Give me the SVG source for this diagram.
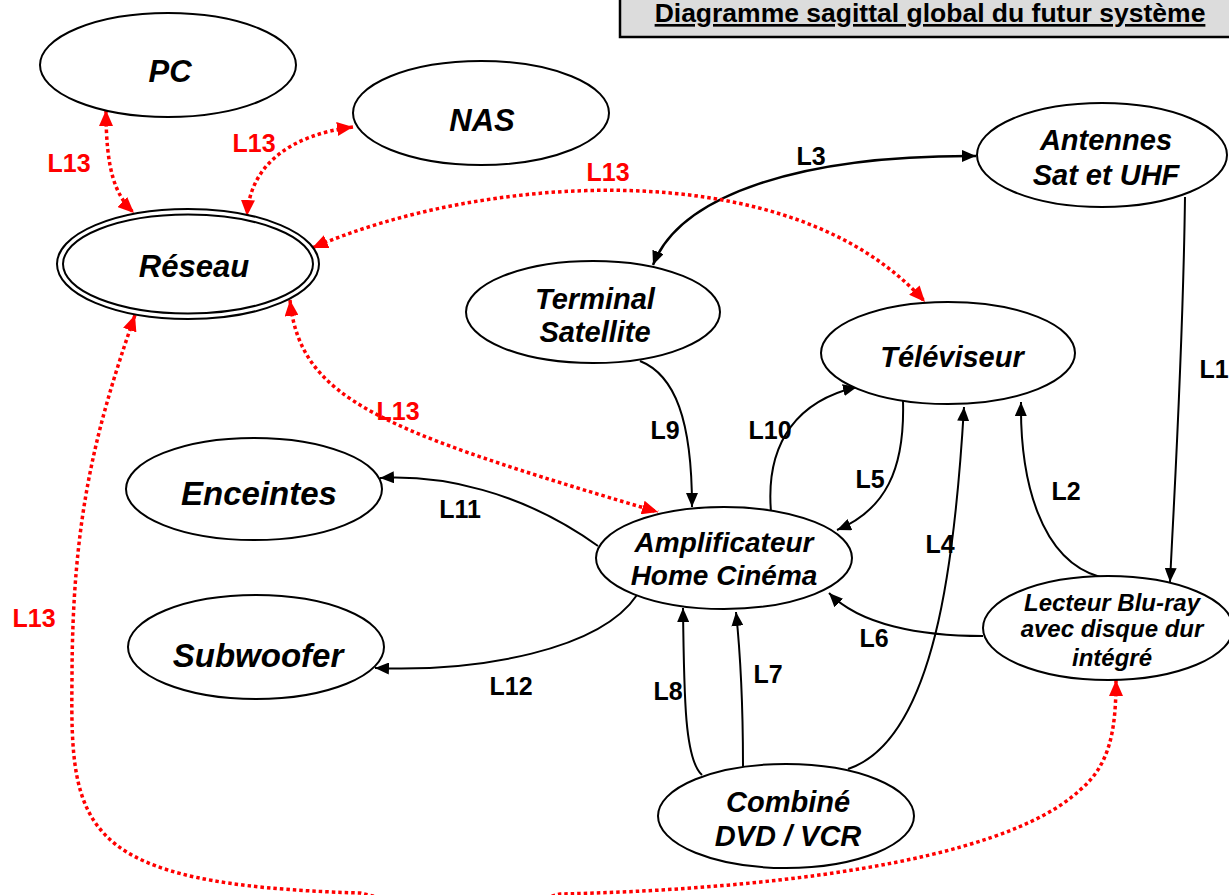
<svg xmlns="http://www.w3.org/2000/svg" width="1229" height="895" viewBox="0 0 1229 895">
<style>
.n{fill:#fff;stroke:#000;stroke-width:2}
.t{font-family:"Liberation Sans",Arial,sans-serif;font-weight:bold;font-style:italic;text-anchor:middle;fill:#000}
.lb{font-family:"Liberation Sans",Arial,sans-serif;font-weight:bold;font-size:25px;text-anchor:middle;fill:#000}
.lr{font-family:"Liberation Sans",Arial,sans-serif;font-weight:bold;font-size:25px;text-anchor:middle;fill:#f00}
.c{fill:none;stroke:#000;stroke-width:2}
.r{fill:none;stroke:#f00;stroke-width:3.5;stroke-dasharray:3.5 3}
</style>
<defs>
<marker id="ab" viewBox="0 0 14 12" refX="14" refY="6" markerWidth="14" markerHeight="12" markerUnits="userSpaceOnUse" orient="auto-start-reverse"><path d="M0,0 L14,6 L0,12 Z" fill="#000"/></marker>
<marker id="ar" viewBox="0 0 16 14" refX="16" refY="7" markerWidth="16" markerHeight="14" markerUnits="userSpaceOnUse" orient="auto-start-reverse"><path d="M0,0 L16,7 L0,14 Z" fill="#f00"/></marker>
</defs>
<rect width="1229" height="895" fill="#fff"/>
<g id="title">
<rect x="620" y="-5" width="620" height="42" fill="#dcdcdc" stroke="#000" stroke-width="2.5"/>
<text x="930" y="22" font-family="Liberation Sans,Arial,sans-serif" font-weight="bold" font-size="26.5" text-anchor="middle" text-decoration="underline">Diagramme sagittal global du futur système</text>
</g>
<g id="connectors">
<path class="c" d="M1185,197 C1183,350 1175,480 1170,582" marker-end="url(#ab)"/>
<path class="c" d="M1100,577 C1040,560 1020,480 1021,402" marker-end="url(#ab)"/>
<path class="c" style="stroke-width:2.5" d="M653,265 C680,195 800,155 976,156" marker-start="url(#ab)" marker-end="url(#ab)"/>
<path class="c" d="M848,769 C935,740 955,560 964,407" marker-end="url(#ab)"/>
<path class="c" d="M903,401 C905,470 885,510 837,530" marker-end="url(#ab)"/>
<path class="c" d="M983,636 C920,636 860,625 829,593" marker-end="url(#ab)"/>
<path class="c" d="M743,767 C743,700 740,650 736,612" marker-end="url(#ab)"/>
<path class="c" d="M702,775 C685,760 684,700 683,608" marker-end="url(#ab)"/>
<path class="c" d="M640,361 C675,375 692,420 692,507" marker-end="url(#ab)"/>
<path class="c" d="M771,512 C765,440 800,400 857,387" marker-end="url(#ab)"/>
<path class="c" d="M598,546 C520,490 440,475 380,478" marker-end="url(#ab)"/>
<path class="c" d="M637,595 C600,650 480,672 375,668" marker-end="url(#ab)"/>
<path class="r" d="M106,110 C106,170 115,195 134,213" marker-start="url(#ar)" marker-end="url(#ar)"/>
<path class="r" d="M353,127 C290,135 250,165 247,216" marker-start="url(#ar)" marker-end="url(#ar)"/>
<path class="r" d="M312,248 C480,175 790,150 925,302" marker-start="url(#ar)" marker-end="url(#ar)"/>
<path class="r" d="M290,300 C300,400 380,430 658,512" marker-start="url(#ar)" marker-end="url(#ar)"/>
<path class="r" d="M135,315 C95,430 72,520 72,680 C70,830 80,885 360,893 C410,906 510,908 560,894 C750,890 1000,865 1080,790 C1110,765 1116,730 1116,680" marker-start="url(#ar)" marker-end="url(#ar)"/>
<text class="lb" x="1214" y="378">L1</text>
<text class="lb" x="1066" y="500">L2</text>
<text class="lb" x="811" y="165">L3</text>
<text class="lb" x="940" y="553">L4</text>
<text class="lb" x="870" y="488">L5</text>
<text class="lb" x="874" y="647">L6</text>
<text class="lb" x="768" y="683">L7</text>
<text class="lb" x="668" y="700">L8</text>
<text class="lb" x="665" y="439">L9</text>
<text class="lb" x="770" y="439">L10</text>
<text class="lb" x="460" y="518">L11</text>
<text class="lb" x="511" y="695">L12</text>
<text class="lr" x="69" y="172">L13</text>
<text class="lr" x="254" y="152">L13</text>
<text class="lr" x="608" y="181">L13</text>
<text class="lr" x="398" y="420">L13</text>
<text class="lr" x="34" y="627">L13</text>
</g>
<g id="pc"><ellipse class="n" cx="168" cy="65" rx="128" ry="52"/><text class="t" x="170" y="82" font-size="31">PC</text></g>
<g id="nas"><ellipse class="n" cx="481" cy="113" rx="128" ry="52"/><text class="t" x="482" y="131" font-size="31">NAS</text></g>
<g id="reseau"><ellipse class="n" cx="188" cy="264" rx="131" ry="55" stroke-width="2.5"/><ellipse class="n" cx="188" cy="264" rx="125" ry="49.5" stroke-width="2.5"/><text class="t" x="194" y="277" font-size="31">Réseau</text></g>
<g id="antennes"><ellipse class="n" cx="1102" cy="155" rx="125" ry="52"/><text class="t" x="1106" y="150" font-size="29">Antennes</text><text class="t" x="1106" y="185" font-size="29">Sat et UHF</text></g>
<g id="terminal"><ellipse class="n" cx="593" cy="312" rx="127" ry="51"/><text class="t" x="595" y="309" font-size="29">Terminal</text><text class="t" x="595" y="342" font-size="29">Satellite</text></g>
<g id="televiseur"><ellipse class="n" cx="948" cy="353" rx="127" ry="51"/><text class="t" x="952" y="367" font-size="29">Téléviseur</text></g>
<g id="enceintes"><ellipse class="n" cx="254" cy="489" rx="128" ry="51"/><text class="t" x="259" y="505" font-size="33">Enceintes</text></g>
<g id="subwoofer"><ellipse class="n" cx="256" cy="647" rx="128" ry="52"/><text class="t" x="258" y="667" font-size="33">Subwoofer</text></g>
<g id="ampli"><ellipse class="n" cx="724" cy="558" rx="128" ry="51"/><text class="t" x="724" y="552" font-size="28">Amplificateur</text><text class="t" x="724" y="585" font-size="28">Home Cinéma</text></g>
<g id="bluray"><ellipse class="n" cx="1108" cy="628" rx="125" ry="52"/><text class="t" x="1112" y="611" font-size="24">Lecteur Blu-ray</text><text class="t" x="1112" y="637" font-size="24">avec disque dur</text><text class="t" x="1112" y="666" font-size="24">intégré</text></g>
<g id="combine"><ellipse class="n" cx="786" cy="816" rx="128" ry="52"/><text class="t" x="788" y="812" font-size="29">Combiné</text><text class="t" x="788" y="846" font-size="29">DVD / VCR</text></g>
</svg>
